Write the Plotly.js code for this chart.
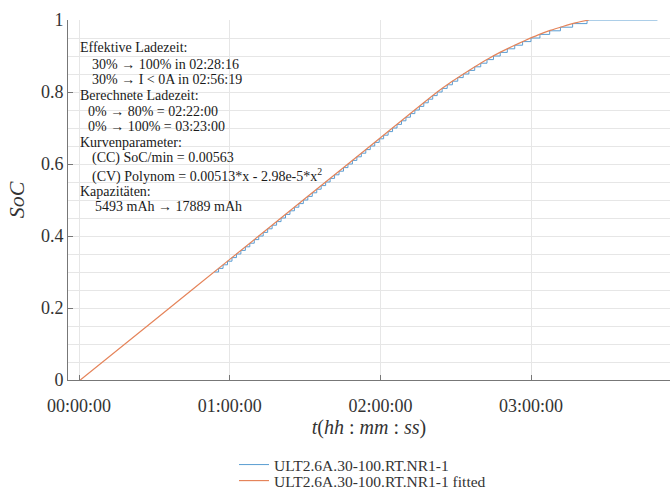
<!DOCTYPE html>
<html><head><meta charset="utf-8">
<script src="https://cdn.plot.ly/plotly-3.0.1.min.js"></script>
<style>html,body{margin:0;padding:0;background:#fff}</style>
</head><body><div id="chart" style="width:670px;height:495px"></div>
<script>
// measured SoC (staircase), time in minutes
const measuredMin = [53.79,55.56,57.34,59.11,60.89,62.67,64.44,66.22,67.99,69.77,
  71.55,73.32,75.10,76.88,78.65,80.43,82.21,83.98,85.76,87.53,
  89.31,91.09,92.86,94.64,96.41,98.19,99.97,101.74,103.52,105.30,
  107.07,108.85,110.62,112.40,114.18,115.95,117.73,119.51,121.28,123.06,
  124.83,126.61,128.39,130.16,131.94,133.71,135.49,137.27,139.04,140.82,
  142.60,144.57,146.59,148.66,150.79,152.97,155.22,157.54,159.94,162.43,
  165.01,167.70,170.52,173.48,176.61,179.94,183.51,187.39,191.68,196.53,
  202.27,230.30];
const measuredSoC = [0.30,0.31,0.32,0.33,0.34,0.35,0.36,0.37,0.38,0.39,
  0.40,0.41,0.42,0.43,0.44,0.45,0.46,0.47,0.48,0.49,
  0.50,0.51,0.52,0.53,0.54,0.55,0.56,0.57,0.58,0.59,
  0.60,0.61,0.62,0.63,0.64,0.65,0.66,0.67,0.68,0.69,
  0.70,0.71,0.72,0.73,0.74,0.75,0.76,0.77,0.78,0.79,
  0.80,0.81,0.82,0.83,0.84,0.85,0.86,0.87,0.88,0.89,
  0.90,0.91,0.92,0.93,0.94,0.95,0.96,0.97,0.98,0.99,
  1.00,1.00];
// fitted curve, time in minutes
const fittedMin = [0.5,30,60,90,120,142.6,147.6,152.6,157.6,162.6,167.6,172.6,177.6,182.6,187.6,192.6,197.6,203.0];
const fittedSoC = [0.0,0.166,0.335,0.504,0.673,0.800,0.825,0.848,0.870,0.891,0.910,0.927,0.943,0.958,0.971,0.982,0.992,1.000];

const xTickVals = [0,60,120,180];
const xTickText = ['00:00:00','01:00:00','02:00:00','03:00:00'];
const yTickVals = [0,0.2,0.4,0.6,0.8,1];
const yTickText = ['0','0.2','0.4','0.6','0.8','1'];

const seriesNames = ['ULT2.6A.30-100.RT.NR1-1','ULT2.6A.30-100.RT.NR1-1 fitted'];

const infoLines = [
  'Effektive Ladezeit:',
  '30% → 100% in 02:28:16',
  '30% → I &lt; 0A in 02:56:19',
  'Berechnete Ladezeit:',
  '0% → 80% = 02:22:00',
  '0% → 100% = 03:23:00',
  'Kurvenparameter:',
  '(CC) SoC/min = 0.00563',
  '(CV) Polynom = 0.00513*x - 2.98e-5*x<sup>2</sup>',
  'Kapazitäten:',
  '5493 mAh → 17889 mAh'
];

// layout helpers (pixel positions of the info block)
const L = 68, T = 20, W = 602, H = 360;
const lineLeft = [78,90,90,78,86,86,78,90,90,78,93];
const lineY = [48,64,79.5,95,111,126.5,142,158,175,191,207];

const annotations = infoLines.map((txt, i) => ({
  text: txt, xref: 'paper', yref: 'paper',
  x: (lineLeft[i] - L) / W, y: (T + H - lineY[i]) / H,
  xanchor: 'left', yanchor: 'middle', showarrow: false, align: 'left',
  font: {family: 'Liberation Serif, serif', size: 14, color: '#1a1a1a'}
}));

const traces = [
  {x: measuredMin, y: measuredSoC, name: seriesNames[0], type: 'scatter', mode: 'lines',
   legend: 'legend', line: {color: '#5a9dd2', width: 1, shape: 'hv'}},
  {x: fittedMin, y: fittedSoC, name: seriesNames[1], type: 'scatter', mode: 'lines',
   legend: 'legend2', line: {color: '#e5845a', width: 1.2, shape: 'spline', smoothing: 0.6}}
];

const legendStyle = (centerY) => ({
  orientation: 'v', x: (234 - L) / W, y: (T + H - centerY) / H, xanchor: 'left', yanchor: 'middle',
  bgcolor: 'rgba(0,0,0,0)', borderwidth: 0,
  font: {family: 'Liberation Serif, serif', size: 15.5, color: '#333'}
});

const layout = {
  width: 670, height: 495,
  margin: {l: L, r: 0, t: T, b: 115, autoexpand: false},
  paper_bgcolor: '#fff', plot_bgcolor: '#fff',
  font: {family: 'Liberation Serif, serif', color: '#333'},
  xaxis: {
    range: [-4.4, 235.3], tickvals: xTickVals, ticktext: xTickText,
    ticks: 'inside', ticklen: 5, tickcolor: '#777', showline: true, linecolor: '#777', linewidth: 1,
    showgrid: true, gridcolor: '#e6e6e6', zeroline: false, ticklabelstandoff: 9,
    tickfont: {family: 'Liberation Serif, serif', size: 18, color: '#333'},
    title: {text: '<i>t</i>(<i>hh</i> : <i>mm</i> : <i>ss</i>)', font: {family: 'Liberation Serif, serif', size: 20, color: '#333'}, standoff: 0}
  },
  yaxis: {
    range: [0, 1], tickvals: yTickVals, ticktext: yTickText,
    ticks: 'inside', ticklen: 5, tickcolor: '#777', showline: true, linecolor: '#777', linewidth: 1,
    showgrid: true, gridcolor: '#e6e6e6', zeroline: false,
    minor: {dtick: 0.05, tick0: 0, showgrid: true, gridcolor: '#e6e6e6', ticks: ''},
    tickfont: {family: 'Liberation Serif, serif', size: 18, color: '#333'},
    title: {text: '<i>SoC</i>', font: {family: 'Liberation Serif, serif', size: 22, color: '#333'}, standoff: 10}
  },
  showlegend: true,
  legend: legendStyle(465),
  legend2: legendStyle(481),
  annotations: annotations
};

Plotly.newPlot('chart', traces, layout, {displayModeBar: false, staticPlot: true});
</script>
</body></html>
